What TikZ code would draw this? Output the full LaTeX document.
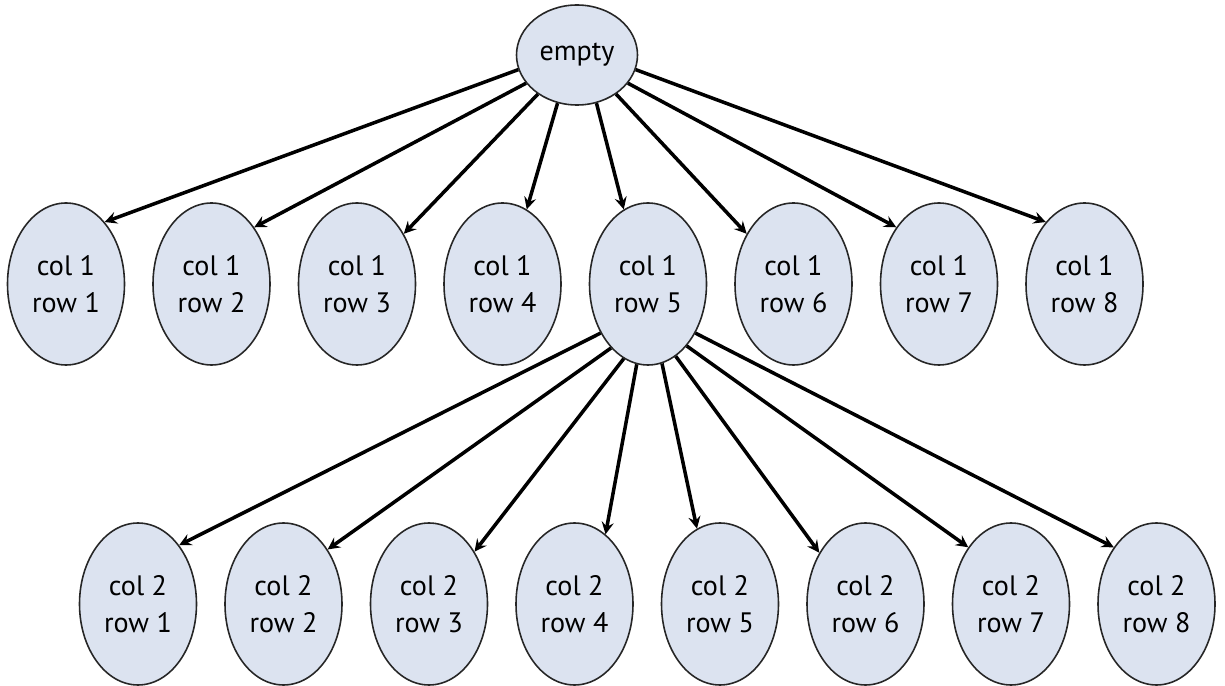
\documentclass[tikz,border=0pt]{standalone}
\usepackage{fontspec}
\setmainfont{PT Sans}
\usetikzlibrary{shapes.geometric, arrows, positioning}
\definecolor{cellblue}{HTML}{DCE3F0}

\begin{document}
\begin{tikzpicture}[
      cell/.style={ellipse, draw=black!85, fill=cellblue, line width=0.9pt, inner sep=0pt, minimum width=2.34cm, minimum height=3.24cm, align=center, font=\fontsize{16}{21}\selectfont},
      arrow/.style={->, >=stealth, line width=2pt},
    ]
      \useasboundingbox (0, 0) rectangle (24.5, -13.72);

      \node[cell, minimum width=2.42cm, minimum height=2cm] (empty) at (11.54, -1.1) {empty};

      % first column
      \node[cell] (c1r1) at (1.32, -5.68) {col 1\\row 1};
      \node[cell] (c1r2) at (4.23, -5.68) {col 1\\row 2};
      \node[cell] (c1r3) at (7.14, -5.68) {col 1\\row 3};
      \node[cell] (c1r4) at (10.05, -5.68) {col 1\\row 4};
      \node[cell] (c1r5) at (12.96, -5.68) {col 1\\row 5};
      \node[cell] (c1r6) at (15.87, -5.68) {col 1\\row 6};
      \node[cell] (c1r7) at (18.78, -5.68) {col 1\\row 7};
      \node[cell] (c1r8) at (21.69, -5.68) {col 1\\row 8};

      % second column
      \node[cell] (c2r1) at (2.76, -12.08) {col 2\\row 1};
      \node[cell] (c2r2) at (5.67, -12.08) {col 2\\row 2};
      \node[cell] (c2r3) at (8.58, -12.08) {col 2\\row 3};
      \node[cell] (c2r4) at (11.49, -12.08) {col 2\\row 4};
      \node[cell] (c2r5) at (14.40, -12.08) {col 2\\row 5};
      \node[cell] (c2r6) at (17.31, -12.08) {col 2\\row 6};
      \node[cell] (c2r7) at (20.22, -12.08) {col 2\\row 7};
      \node[cell] (c2r8) at (23.13, -12.08) {col 2\\row 8};

      \draw[arrow] (empty.194) -- (c1r1.58);
      \draw[arrow] (empty.209) -- (c1r2.53);
      \draw[arrow] (empty.225) -- (c1r3.47);
      \draw[arrow] (empty.248) -- (c1r4.72);
      \draw[arrow] (empty.292) -- (c1r5.108);
      \draw[arrow] (empty.315) -- (c1r6.133);
      \draw[arrow] (empty.331) -- (c1r7.127);
      \draw[arrow] (empty.346) -- (c1r8.122);

      \draw[arrow] (c1r5.226) -- (c2r1.55);
      \draw[arrow] (c1r5.240) -- (c2r2.51);
      \draw[arrow] (c1r5.252) -- (c2r3.49);
      \draw[arrow] (c1r5.262) -- (c2r4.66);
      \draw[arrow] (c1r5.280) -- (c2r5.107);
      \draw[arrow] (c1r5.291) -- (c2r6.132);
      \draw[arrow] (c1r5.302) -- (c2r7.127);
      \draw[arrow] (c1r5.314) -- (c2r8.127);
    \end{tikzpicture}
\end{document}
